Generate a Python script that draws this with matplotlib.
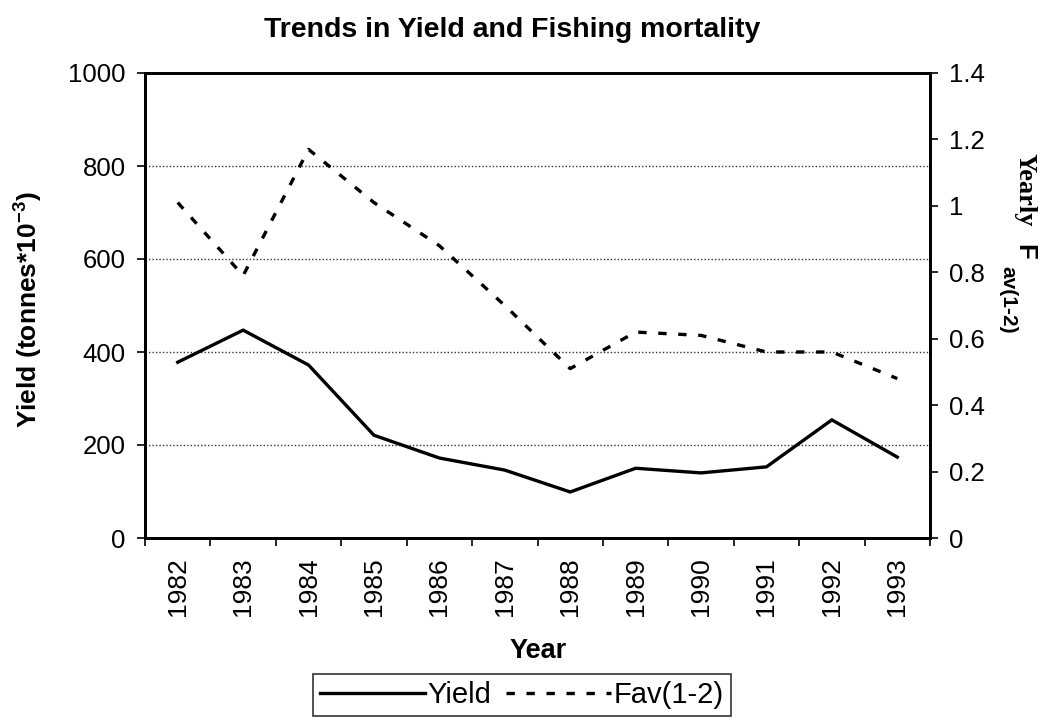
import matplotlib
matplotlib.use("Agg")
import matplotlib.pyplot as plt
import numpy as np

plt.rcParams['font.family'] = ['Liberation Sans', 'DejaVu Sans']
plt.rcParams['mathtext.fontset'] = 'custom'
plt.rcParams['mathtext.rm'] = 'Liberation Sans'
plt.rcParams['mathtext.bf'] = 'Liberation Sans:bold'

years = ['1982', '1983', '1984', '1985', '1986', '1987', '1988', '1989', '1990', '1991', '1992', '1993']
yield_vals = [378, 447, 372, 221, 172, 146, 99, 150, 140, 153, 254, 174]
fav_vals = [1.01, 0.79, 1.17, 1.01, 0.88, 0.70, 0.51, 0.62, 0.61, 0.56, 0.56, 0.48]
left_ticks = [0, 200, 400, 600, 800, 1000]
right_ticks = [0, 0.2, 0.4, 0.6, 0.8, 1.0, 1.2, 1.4]
right_tick_labels = ['0', '0.2', '0.4', '0.6', '0.8', '1', '1.2', '1.4']

W, H = 1047, 720
fig = plt.figure(figsize=(W/100, H/100), dpi=100)
ax = fig.add_axes([145/W, 1-538/H, (930-145)/W, (538-73)/H])
ax2 = ax.twinx()

x = np.arange(len(years))
l1, = ax.plot(x, yield_vals, color='black', lw=2.4, solid_joinstyle='miter')
l2, = ax2.plot(x, fav_vals, color='black', lw=2.4, dashes=(2.5, 3.5))

ax.set_xlim(-0.5, len(years) - 0.5)
ax.set_ylim(0, 1000)
ax2.set_ylim(0, 1.4)

ax.set_yticks(left_ticks)
ax.set_yticklabels([str(v) for v in left_ticks], fontsize=18.5)
ax2.set_yticks(right_ticks)
ax2.set_yticklabels(right_tick_labels, fontsize=18.5)

ax.set_xticks(x)
ax.set_xticklabels(years, rotation=90, fontsize=19)
ax.set_xticks(np.arange(-0.5, len(years) + 0.5, 1), minor=True)
ax.tick_params(axis='x', which='major', length=0, pad=14)
ax.tick_params(axis='x', which='minor', length=6, width=1.2, direction='out')
ax.tick_params(axis='y', length=6, width=1.2, direction='out', pad=8)
ax2.tick_params(axis='y', length=6, width=1.2, direction='out', pad=8)

ax.yaxis.grid(True, linestyle=(0, (1, 1.5)), color='#333333', lw=1.0)
ax.set_axisbelow(True)

for a in (ax, ax2):
    for s in a.spines.values():
        s.set_linewidth(2.0)

fig.text(28/W, 1-310/H, r'Yield (tonnes*10$^{\mathbf{-3}}$)', fontsize=19, fontweight='bold',
         rotation=90, ha='center', va='center')
fig.text(538/W, 1-651/H, 'Year', fontsize=19.5, fontweight='bold', ha='center', va='center')

fig.text(512/W, 1-30/H, 'Trends in Yield and Fishing mortality', fontsize=20.5,
         fontweight='bold', ha='center', va='center')

# right axis label
fig.text(1025/W, 1-190/H, 'Yearly', fontsize=19, fontweight='bold',
         family='Liberation Serif', rotation=-90, ha='center', va='center')
fig.text(1024/W, 1-252/H, 'F', fontsize=18.5, fontweight='bold',
         rotation=-90, ha='center', va='center')
fig.text(1008/W, 1-300/H, 'av(1-2)', fontsize=15, fontweight='bold',
         rotation=-90, ha='center', va='center')

leg = fig.legend([l1, l2], ['Yield', 'Fav(1-2)'], loc='center', bbox_to_anchor=(522/W, 1-695/H),
                 ncol=2, fontsize=21, frameon=True, fancybox=False, edgecolor='black',
                 handlelength=3.6, handletextpad=0.08, columnspacing=0.5, borderpad=0.25,
                 borderaxespad=0)
leg.get_frame().set_linewidth(1.2)

fig.savefig('out.png', dpi=100)
